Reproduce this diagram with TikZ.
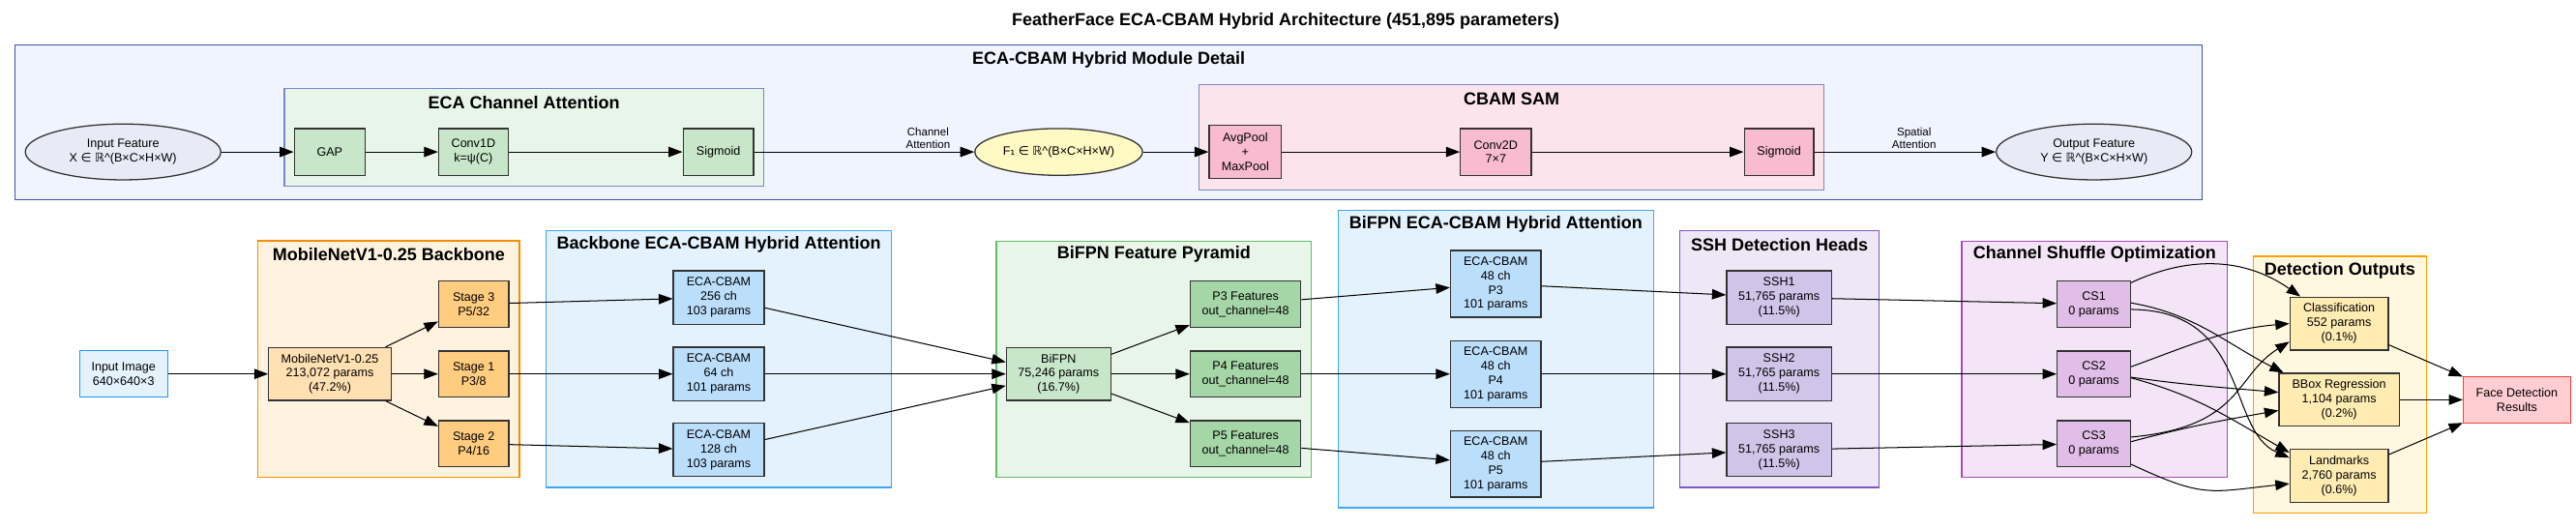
\documentclass[tikz,border=0pt]{standalone}
\usepackage{fontspec}
\setmainfont{Liberation Sans}
\newfontfamily\djv{DejaVu Sans}
\usetikzlibrary{arrows.meta,shapes.geometric}
\definecolor{ndline}{HTML}{333333}
\definecolor{topfill}{HTML}{F0F4FF}
\definecolor{topline}{HTML}{3F51B5}
\definecolor{ecafill}{HTML}{E8F5E9}
\definecolor{subline}{HTML}{7986CB}
\definecolor{cbamfill}{HTML}{FCE4EC}
\definecolor{gnode}{HTML}{C8E6C9}
\definecolor{pnode}{HTML}{F8BBD0}
\definecolor{elfill}{HTML}{E8EAF6}
\definecolor{yfill}{HTML}{FFF9C4}
\definecolor{inpfill}{HTML}{E3F2FD}
\definecolor{inpline}{HTML}{2196F3}
\definecolor{mobfill}{HTML}{FFF3E0}
\definecolor{mobline}{HTML}{FB8C00}
\definecolor{mobnode}{HTML}{FFE0B2}
\definecolor{stnode}{HTML}{FFCC80}
\definecolor{bfill}{HTML}{E3F2FD}
\definecolor{bline}{HTML}{42A5F5}
\definecolor{bnode}{HTML}{BBDEFB}
\definecolor{bifline}{HTML}{66BB6A}
\definecolor{pfnode}{HTML}{A5D6A7}
\definecolor{sshfill}{HTML}{EDE7F6}
\definecolor{sshline}{HTML}{7E57C2}
\definecolor{sshnode}{HTML}{D1C4E9}
\definecolor{csfill}{HTML}{F3E5F5}
\definecolor{csline}{HTML}{AB47BC}
\definecolor{csnode}{HTML}{E1BEE7}
\definecolor{detfill}{HTML}{FFF8E1}
\definecolor{detline}{HTML}{FFA000}
\definecolor{detnode}{HTML}{FFECB3}
\definecolor{facefill}{HTML}{FFCDD2}
\definecolor{faceline}{HTML}{F44336}
\begin{document}
\begin{tikzpicture}[x=1pt,y=1pt,
  nd/.style={draw=ndline, line width=0.75pt, rectangle, align=center, inner sep=0pt,
    font=\fontsize{7.4}{8.8}\selectfont},
  el/.style={nd, ellipse},
  cl/.style={line width=0.8pt},
  ct/.style={font=\fontsize{10.6}{12}\selectfont\bfseries, inner sep=0pt},
  ed/.style={-{Triangle[length=8.5pt,width=6.2pt]}, line width=0.6pt, black},
  lb/.style={font=\fontsize{6.8}{7.9}\selectfont, align=center, inner sep=1.5pt}
]
\useasboundingbox (0,0) rectangle (1568,322);
\fill[white] (0,0) rectangle (1568,322);

\node[font=\fontsize{10.6}{12}\selectfont\bfseries, inner sep=0pt] (title) at (782.6,309.2)
  {FeatherFace ECA-CBAM Hybrid Architecture (451,895 parameters)};

% ---------- top module detail ----------
\draw[cl, draw=topline, fill=topfill] (9.1,294.5) rectangle (1340.5,200.3);
\node[ct] (ttop) at (674.8,285.7) {ECA-CBAM Hybrid Module Detail};
\draw[cl, draw=subline, fill=ecafill] (173.1,268) rectangle (464.7,208.8);
\node[ct] (teca) at (318.9,259.6) {ECA Channel Attention};
\draw[cl, draw=subline, fill=cbamfill] (730,270.4) rectangle (1110.2,206.2);
\node[ct] (tcbam) at (920.1,261.5) {CBAM SAM};

\node[el, fill=elfill, minimum width=119pt, minimum height=34pt] (inF) at (74.9,229.5)
  {Input Feature\\X {\djv ∈} {\djv ℝ}\^{}(B×C×H×W)};
\node[nd, fill=gnode, minimum width=43pt, minimum height=28.5pt] (gap) at (200.65,229.5) {GAP};
\node[nd, fill=gnode, minimum width=42.3pt, minimum height=28.5pt] (c1d) at (288.15,229.5) {Conv1D\\k=ψ(C)};
\node[nd, fill=gnode, minimum width=42.9pt, minimum height=28.5pt] (sig1) at (437.25,229.5) {Sigmoid};
\node[el, fill=yfill, minimum width=102pt, minimum height=28.5pt] (f1) at (644.4,229.5)
  {F{\djv ₁} {\djv ∈} {\djv ℝ}\^{}(B×C×H×W)};
\node[nd, fill=pnode, minimum width=44pt, minimum height=32.5pt] (avg) at (758,229.5) {AvgPool\\+\\MaxPool};
\node[nd, fill=pnode, minimum width=43pt, minimum height=28.5pt] (c2d) at (910.5,229.5) {Conv2D\\7×7};
\node[nd, fill=pnode, minimum width=42.3pt, minimum height=28.5pt] (sig2) at (1082.85,229.5) {Sigmoid};
\node[el, fill=elfill, minimum width=119pt, minimum height=34pt] (outF) at (1274.6,229.5)
  {Output Feature\\Y {\djv ∈} {\djv ℝ}\^{}(B×C×H×W)};

\draw[ed] (inF) -- (gap);
\draw[ed] (gap) -- (c1d);
\draw[ed] (c1d) -- (sig1);
\draw[ed] (sig1) -- node[lb, above, pos=0.79] (lab1) {Channel\\Attention} (f1);
\draw[ed] (f1) -- (avg);
\draw[ed] (avg) -- (c2d);
\draw[ed] (c2d) -- (sig2);
\draw[ed] (sig2) -- node[lb, above, pos=0.55] (lab2) {Spatial\\Attention} (outF);

% ---------- clusters ----------
\draw[cl, draw=mobline, fill=mobfill] (157.1,175.4) rectangle (316.1,31.5);
\node[ct] (tmob) at (236.6,167) {MobileNetV1-0.25 Backbone};
\draw[cl, draw=bline, fill=bfill] (332.3,181.7) rectangle (542.7,25.2);
\node[ct] (tbb) at (437.5,173.2) {Backbone ECA-CBAM Hybrid Attention};
\draw[cl, draw=bifline, fill=ecafill] (606.4,175.2) rectangle (798.3,31.5);
\node[ct] (tbif) at (702.35,167) {BiFPN Feature Pyramid};
\draw[cl, draw=bline, fill=bfill] (814.5,194) rectangle (1006.5,12.9);
\node[ct] (tbifa) at (910.5,185.6) {BiFPN ECA-CBAM Hybrid Attention};
\draw[cl, draw=sshline, fill=sshfill] (1022.6,181.7) rectangle (1143.8,25.2);
\node[ct] (tssh) at (1083.2,173.2) {SSH Detection Heads};
\draw[cl, draw=csline, fill=csfill] (1194.1,175.2) rectangle (1355.8,31.5);
\node[ct] (tcs) at (1275,167) {Channel Shuffle Optimization};
\draw[cl, draw=detline, fill=detfill] (1371.5,166) rectangle (1476.9,9.5);
\node[ct] (tdet) at (1424.2,157.1) {Detection Outputs};

% ---------- nodes ----------
\node[nd, draw=inpline, fill=inpfill, minimum width=53.6pt, minimum height=28.3pt] (img) at (75.2,94.3) {Input Image\\640×640×3};
\node[nd, fill=mobnode, minimum width=74.4pt, minimum height=32.2pt] (mob) at (200.8,94.3) {MobileNetV1-0.25\\213,072 params\\(47.2\%)};
\node[nd, fill=stnode, minimum width=42.7pt, minimum height=28pt] (st3) at (288.35,136.8) {Stage 3\\P5/32};
\node[nd, fill=stnode, minimum width=42.7pt, minimum height=28pt] (st1) at (288.35,94.3) {Stage 1\\P3/8};
\node[nd, fill=stnode, minimum width=42.7pt, minimum height=28pt] (st2) at (288.35,51.9) {Stage 2\\P4/16};

\node[nd, fill=bnode, minimum width=55.3pt, minimum height=32.5pt] (e256) at (437.5,140.9) {ECA-CBAM\\256 ch\\103 params};
\node[nd, fill=bnode, minimum width=55.3pt, minimum height=32.5pt] (e64) at (437.5,94.3) {ECA-CBAM\\64 ch\\101 params};
\node[nd, fill=bnode, minimum width=55.3pt, minimum height=32.5pt] (e128) at (437.5,48.1) {ECA-CBAM\\128 ch\\103 params};

\node[nd, fill=gnode, minimum width=63.5pt, minimum height=32.2pt] (bif) at (644.35,94.3) {BiFPN\\75,246 params\\(16.7\%)};
\node[nd, fill=pfnode, minimum width=67.3pt, minimum height=28pt] (p3) at (758.15,136.8) {P3 Features\\out\_channel=48};
\node[nd, fill=pfnode, minimum width=67.3pt, minimum height=28pt] (p4) at (758.15,94.3) {P4 Features\\out\_channel=48};
\node[nd, fill=pfnode, minimum width=67.3pt, minimum height=28pt] (p5) at (758.15,51.9) {P5 Features\\out\_channel=48};

\node[nd, fill=bnode, minimum width=55.1pt, minimum height=40.6pt] (ep3) at (910.45,149.2) {ECA-CBAM\\48 ch\\P3\\101 params};
\node[nd, fill=bnode, minimum width=55.1pt, minimum height=40.6pt] (ep4) at (910.45,94.3) {ECA-CBAM\\48 ch\\P4\\101 params};
\node[nd, fill=bnode, minimum width=55.1pt, minimum height=40.6pt] (ep5) at (910.45,39.6) {ECA-CBAM\\48 ch\\P5\\101 params};

\node[nd, fill=sshnode, minimum width=63.8pt, minimum height=32.5pt] (ssh1) at (1082.9,140.9) {SSH1\\51,765 params\\(11.5\%)};
\node[nd, fill=sshnode, minimum width=63.8pt, minimum height=32.5pt] (ssh2) at (1082.9,94.3) {SSH2\\51,765 params\\(11.5\%)};
\node[nd, fill=sshnode, minimum width=63.8pt, minimum height=32.5pt] (ssh3) at (1082.9,48.1) {SSH3\\51,765 params\\(11.5\%)};

\node[nd, fill=csnode, minimum width=44.6pt, minimum height=28pt] (cs1) at (1274.5,136.8) {CS1\\0 params};
\node[nd, fill=csnode, minimum width=44.6pt, minimum height=28pt] (cs2) at (1274.5,94.3) {CS2\\0 params};
\node[nd, fill=csnode, minimum width=44.6pt, minimum height=28pt] (cs3) at (1274.5,51.9) {CS3\\0 params};

\node[nd, fill=detnode, minimum width=59.8pt, minimum height=32.2pt] (cls) at (1423.8,125) {Classification\\552 params\\(0.1\%)};
\node[nd, fill=detnode, minimum width=73.2pt, minimum height=32.2pt] (bbox) at (1423.8,78.6) {BBox Regression\\1,104 params\\(0.2\%)};
\node[nd, fill=detnode, minimum width=59.8pt, minimum height=32.2pt] (lmk) at (1423.8,32.3) {Landmarks\\2,760 params\\(0.6\%)};
\node[nd, draw=faceline, fill=facefill, minimum width=65.1pt, minimum height=28.3pt] (face) at (1532,78.6) {Face Detection\\Results};

% ---------- edges ----------
\draw[ed] (img) -- (mob);
\draw[ed] (mob) -- (st3);
\draw[ed] (mob) -- (st1);
\draw[ed] (mob) -- (st2);
\draw[ed] (st3) -- (e256);
\draw[ed] (st1) -- (e64);
\draw[ed] (st2) -- (e128);
\draw[ed] (e256) -- (bif);
\draw[ed] (e64) -- (bif);
\draw[ed] (e128) -- (bif);
\draw[ed] (bif) -- (p3);
\draw[ed] (bif) -- (p4);
\draw[ed] (bif) -- (p5);
\draw[ed] (p3) -- (ep3);
\draw[ed] (p4) -- (ep4);
\draw[ed] (p5) -- (ep5);
\draw[ed] (ep3) -- (ssh1);
\draw[ed] (ep4) -- (ssh2);
\draw[ed] (ep5) -- (ssh3);
\draw[ed] (ssh1) -- (cs1);
\draw[ed] (ssh2) -- (cs2);
\draw[ed] (ssh3) -- (cs3);

\draw[ed] (cs1.30) to[out=25, in=145] (cls.145);
\draw[ed] (cs1.2) to[out=-10, in=153] (bbox.154);
\draw[ed] (cs1.-8) .. controls (1370,133) and (1355,60) .. (lmk.160);
\draw[ed] (cs2.11) to[out=20, in=185] (cls.west);
\draw[ed] (cs2.-5) to[out=-8, in=175] (bbox.173);
\draw[ed] (cs2.-6) to[out=-15, in=150] (lmk.155);
\draw[ed] (cs3.10) .. controls (1365,62) and (1360,93) .. (cls.200);
\draw[ed] (cs3.3) to[out=15, in=-170] (bbox.190);
\draw[ed] (cs3.-29) to[out=-25, in=186, looseness=1.3] (lmk.189);

\draw[ed] (cls) -- (face);
\draw[ed] (bbox) -- (face);
\draw[ed] (lmk) -- (face);
\end{tikzpicture}
\end{document}
